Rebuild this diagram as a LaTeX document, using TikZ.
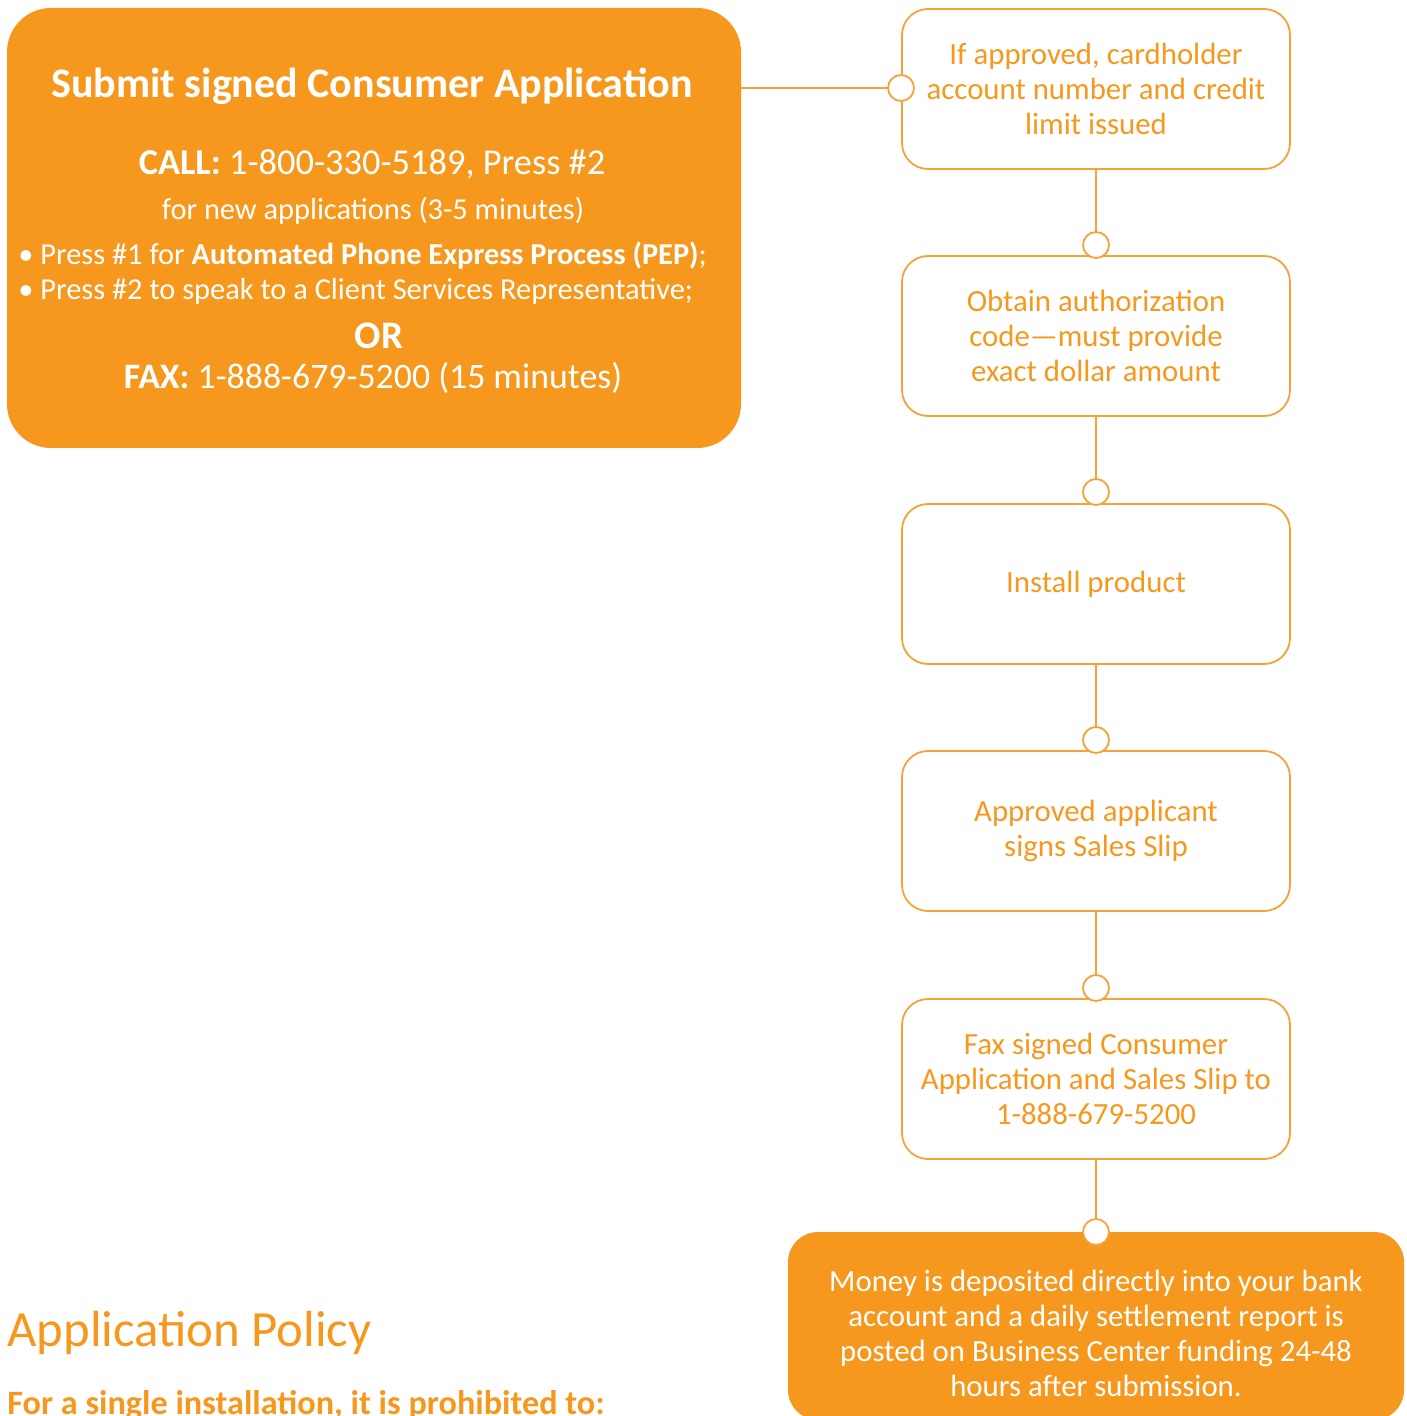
\documentclass[tikz,border=0pt]{standalone}
\usepackage{fontspec}
\setmainfont{Carlito}
\usetikzlibrary{positioning}
\definecolor{georange}{RGB}{247,152,30}
\definecolor{lineorange}{RGB}{246,162,56}

\begin{document}
\begin{tikzpicture}[x=0.5pt,y=-0.5pt,
    stepbox/.style={draw=lineorange,line width=0.9pt,rounded corners=13pt,
        minimum width=194pt,minimum height=80pt,text=georange,align=center,
        font=\fontsize{15.4}{17.5}\selectfont},
    joint/.style={circle,draw=lineorange,fill=white,line width=0.9pt,
        minimum size=13pt,inner sep=0pt},
    link/.style={draw=lineorange,line width=0.9pt},
    whitetext/.style={text=white,inner sep=0pt}]

            %\draw [help lines] (0,0) grid (1406,1416);
            \useasboundingbox (0,0) rectangle (1406,1416);

            % big box on the left
            \path   (374,228) node (submit) [fill=georange,rounded corners=22pt,
                        minimum width=367pt,minimum height=220pt] {};
            \path   (372,86)  node (title) [whitetext,font=\fontsize{21}{24}\selectfont\bfseries]
                        {Submit signed Consumer Application}
                    (372,164) node (call) [whitetext,font=\fontsize{18.2}{20}\selectfont]
                        {\textbf{CALL:} 1-800-330-5189, Press \#2}
                    (373,211) node (fornew) [whitetext,font=\fontsize{15.2}{17}\selectfont]
                        {for new applications (3-5 minutes)}
                    (18,256)  node (pressone) [whitetext,anchor=west,font=\fontsize{15.2}{17}\selectfont]
                        {\textbullet\ Press \#1 for \textbf{Automated Phone Express Process (PEP)};}
                    (18,291)  node (presstwo) [whitetext,anchor=west,font=\fontsize{15.2}{17}\selectfont]
                        {\textbullet\ Press \#2 to speak to a Client Services Representative;}
                    (379,336) node (or) [whitetext,font=\fontsize{19.5}{22}\selectfont\bfseries] {OR}
                    (373,378) node (fax) [whitetext,font=\fontsize{17.9}{20}\selectfont]
                        {\textbf{FAX:} 1-888-679-5200 (15 minutes)};

            % steps on the right
            \path   (1096,89)   node (approved) [stepbox]
                        {If approved, cardholder\\account number and credit\\limit issued}
                    (1096,336) node (authcode) [stepbox]
                        {Obtain authorization\\code---must provide\\exact dollar amount}
                    (1096,584)  node (install) [stepbox] {Install product}
                    (1096,831)  node (signs) [stepbox] {Approved applicant\\signs Sales Slip}
                    (1096,1079) node (faxslip) [stepbox]
                        {Fax signed Consumer\\Application and Sales Slip to\\1-888-679-5200};
            \path   (1096,1326) node (money) [fill=georange,rounded corners=15pt,
                        minimum width=308pt,minimum height=94pt] {};
            \path   (1096,1333) node (moneytext) [whitetext,align=center,
                        font=\fontsize{15.4}{17.5}\selectfont]
                        {Money is deposited directly into your bank\\account and a daily settlement report is\\posted on Business Center funding 24-48\\hours after submission.};

            % joints
            \path   (901,88)   node (jone) [joint] {}
                    (1096,245) node (jtwo) [joint] {}
                    (1096,492) node (jthree) [joint] {}
                    (1096,740) node (jfour) [joint] {}
                    (1096,988) node (jfive) [joint] {}
                    (1096,1232) node (jsix) [joint] {};

            \draw[link] (jone) -- (jone -| submit.east);
            \draw[link] (approved) -- (jtwo);
            \draw[link] (authcode) -- (jthree);
            \draw[link] (install) -- (jfour);
            \draw[link] (signs) -- (jfive);
            \draw[link] (faxslip) -- (jsix);

            % policy heading
            \path   (7,1333) node (policy) [anchor=west,inner sep=0pt,text=georange,
                        font=\fontsize{25.4}{30}\selectfont] {Application Policy}
                    (7,1405) node (single) [anchor=west,inner sep=0pt,text=georange,
                        font=\fontsize{17.1}{20}\selectfont\bfseries]
                        {For a single installation, it is prohibited to:};

        \end{tikzpicture}
\end{document}
